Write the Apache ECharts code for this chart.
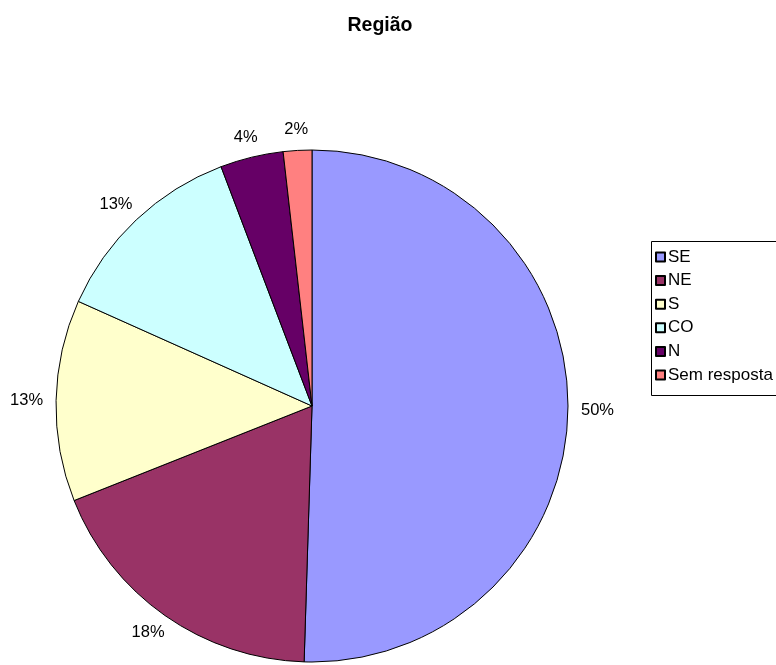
<!DOCTYPE html>
<html>
<head>
<meta charset="utf-8">
<script src="https://cdn.jsdelivr.net/npm/echarts@6/dist/echarts.min.js"></script>
<style>
  html, body { margin: 0; padding: 0; background: #fff; }
  #chart { width: 776px; height: 665px; }
</style>
</head>
<body>
<div id="chart"></div>
<script>
// Respondent share by region (percent)
const regions = ['SE', 'NE', 'S', 'CO', 'N', 'Sem resposta'];
const shares = [50.49, 18.49, 12.72, 12.52, 3.98, 1.8];
const colors = ['#9999FF', '#993366', '#FFFFCC', '#CCFFFF', '#660066', '#FF8080'];

const FONT = 'Liberation Sans, Arial, sans-serif';
const CX = 312, CY = 406, R = 256;
const LABEL_GAP = 13;

// mid angle of each slice, clockwise from 12 o'clock, in radians
const total = shares.reduce((a, b) => a + b, 0);
const midAngles = [];
let acc = 0;
shares.forEach(v => {
  midAngles.push((acc + v / 2) / total * 2 * Math.PI);
  acc += v;
});

const chart = echarts.init(document.getElementById('chart'), null, { renderer: 'canvas' });

chart.setOption({
  animation: false,
  backgroundColor: '#ffffff',
  title: {
    text: 'Região',
    left: 375,
    top: 11,
    textAlign: 'center',
    textStyle: { fontFamily: FONT, fontSize: 19.5, fontWeight: 'bold', color: '#000' }
  },
  graphic: [{
    type: 'rect',
    shape: { x: 651.5, y: 241.5, width: 140, height: 154 },
    style: { fill: '#fff', stroke: '#000', lineWidth: 1 },
    z: 0
  }],
  legend: {
    orient: 'vertical',
    left: 655,
    top: 248.5,
    itemWidth: 9,
    itemHeight: 9,
    itemGap: 6.6,
    icon: 'rect',
    padding: 0,
    textStyle: { fontFamily: FONT, fontSize: 17, color: '#000', lineHeight: 17, padding: [0, 0, 0, -2] },
    data: regions
  },
  series: [{
    type: 'pie',
    center: [CX, CY],
    radius: R,
    startAngle: 90,
    clockwise: true,
    percentPrecision: 4,
    itemStyle: { borderColor: '#000', borderWidth: 1 },
    label: {
      show: true,
      position: 'outside',
      overflow: 'none',
      edgeDistance: 0,
      formatter: p => Math.round(p.percent) + '%',
      fontFamily: FONT,
      fontSize: 16.5,
      color: '#000'
    },
    labelLine: { show: false },
    // each label box sits a small gap beyond the rim, pushed out along the slice bisector
    labelLayout: params => {
      const a = midAngles[params.dataIndex];
      const ux = Math.sin(a), uy = -Math.cos(a);
      const hw = params.labelRect.width / 2;
      const hh = params.labelRect.height / 2 - 1;
      return {
        x: CX + R * ux + ux * (LABEL_GAP + hw),
        y: CY + R * uy + uy * (LABEL_GAP + hh),
        align: 'center',
        verticalAlign: 'middle'
      };
    },
    emphasis: { disabled: true },
    data: regions.map((name, i) => ({ name, value: shares[i], itemStyle: { color: colors[i] } }))
  }]
});
</script>
</body>
</html>
